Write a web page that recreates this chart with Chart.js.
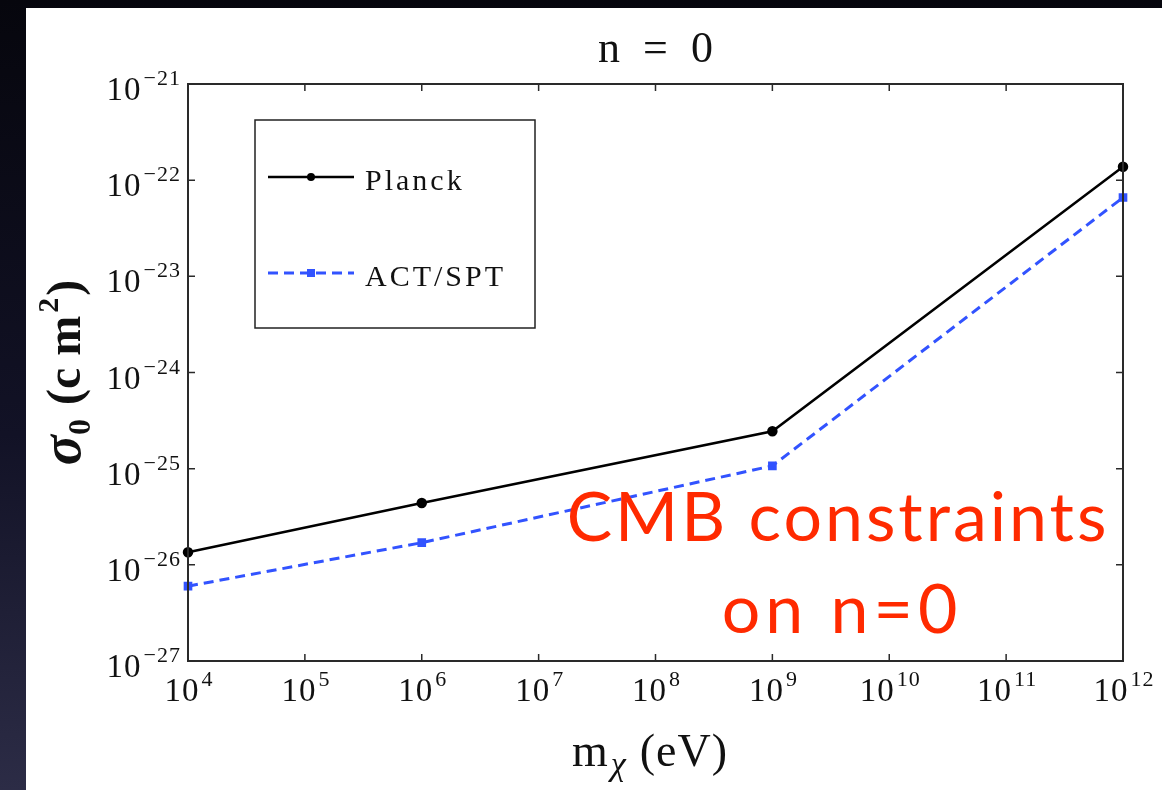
<!DOCTYPE html>
<html>
<head>
<meta charset="utf-8">
<script src="https://cdn.jsdelivr.net/npm/chart.js@4.4.1/dist/chart.umd.min.js"></script>
<style>
  html, body { margin: 0; padding: 0; }
  body {
    width: 1162px; height: 790px; overflow: hidden; position: relative;
    background: linear-gradient(180deg, #06060d 0%, #121226 55%, #2c2c46 100%);
  }
  #panel { position: absolute; left: 26px; top: 8px; right: 0; bottom: 0; background: #fff; }
  #wrap { position: absolute; left: 0; top: 0; width: 1162px; height: 790px; }
</style>
</head>
<body>
<div id="panel"></div>
<div id="wrap"><canvas id="chart"></canvas></div>
<script>
// tick decades (exponents of ten)
const xTickExps = [4, 5, 6, 7, 8, 9, 10, 11, 12];
const yTickExps = [-27, -26, -25, -24, -23, -22, -21];

// dark matter mass m_chi (eV)
const massEV = [1e4, 1e6, 1e9, 1e12];
// sigma_0 upper limits (cm^2)
const planckSigma = [1.35e-26, 4.4e-26, 2.45e-25, 1.38e-22];
const actSptSigma = [6.0e-27, 1.7e-26, 1.07e-25, 6.6e-23];
const seriesNames = ['Planck', 'ACT/SPT'];

const serif = '"Liberation Serif", "Times New Roman", serif';
const MINUS = '\u2212';

function supText(e) {
    return e < 0 ? MINUS + Math.abs(e) : String(e);
}

// draws "10" with the exponent raised, anchored right or centred
function drawPower(ctx, exp, x, y, align) {
    ctx.letterSpacing = '1px';
    ctx.font = '33px ' + serif;
    const wb = ctx.measureText('10').width;
    ctx.font = '22px ' + serif;
    const sup = supText(exp);
    const ws = ctx.measureText(sup).width;
    const gap = 2;
    const total = wb + gap + ws;
    const x0 = align === 'right' ? x - total : x - total / 2;
    ctx.textAlign = 'left';
    ctx.textBaseline = 'alphabetic';
    ctx.font = '33px ' + serif;
    ctx.fillText('10', x0, y);
    ctx.font = '22px ' + serif;
    ctx.fillText(sup, x0 + wb + gap, y - 15);
    ctx.letterSpacing = '0px';
}

const decor = {
    id: 'decor',
    afterDraw(chart) {
        const ctx = chart.ctx;
        const a = chart.chartArea;
        const xs = chart.scales.x, ys = chart.scales.y;
        ctx.save();

        // frame
        ctx.strokeStyle = '#2a2a2a';
        ctx.lineWidth = 2;
        ctx.strokeRect(a.left, a.top, a.right - a.left, a.bottom - a.top);

        // inner tick marks on all four sides
        ctx.lineWidth = 1.5;
        ctx.beginPath();
        xs.ticks.forEach(t => {
            const px = xs.getPixelForValue(t.value);
            ctx.moveTo(px, a.bottom); ctx.lineTo(px, a.bottom - 7);
            ctx.moveTo(px, a.top); ctx.lineTo(px, a.top + 7);
        });
        ys.ticks.forEach(t => {
            const py = ys.getPixelForValue(t.value);
            ctx.moveTo(a.left, py); ctx.lineTo(a.left + 7, py);
            ctx.moveTo(a.right, py); ctx.lineTo(a.right - 7, py);
        });
        ctx.stroke();

        // tick labels
        ctx.fillStyle = '#111';
        xs.ticks.forEach(t => {
            const px = xs.getPixelForValue(t.value);
            drawPower(ctx, Math.round(Math.log10(t.value)), px + 1, a.bottom + 40, 'center');
        });
        ys.ticks.forEach(t => {
            const py = ys.getPixelForValue(t.value);
            drawPower(ctx, Math.round(Math.log10(t.value)), a.left - 7, py + 16, 'right');
        });

        // title
        ctx.textAlign = 'center';
        ctx.font = '44px ' + serif;
        ctx.letterSpacing = '6px';
        ctx.fillText('n = 0', (a.left + a.right) / 2 + 3, 62);
        ctx.letterSpacing = '0px';

        // x axis title: m_chi (eV)
        ctx.textAlign = 'left';
        let x = 572;
        const by = 766;
        ctx.font = '46px ' + serif;
        ctx.fillText('m', x, by);
        x += ctx.measureText('m').width + 3;
        ctx.font = 'italic 34px ' + serif;
        ctx.fillText('\u03C7', x, by + 9);
        x += ctx.measureText('\u03C7').width + 14;
        ctx.font = '46px ' + serif;
        ctx.letterSpacing = '1px';
        ctx.fillText('(eV)', x, by);
        ctx.letterSpacing = '0px';

        // y axis title: sigma_0 (cm^2), rotated
        ctx.save();
        ctx.translate(80, (a.top + a.bottom) / 2);
        ctx.rotate(-Math.PI / 2);
        const parts = [
            { t: '\u03C3', f: 'bold italic 56px ' + serif, dy: 0, sp: 0 },
            { t: '0', f: 'bold 32px ' + serif, dy: 10, sp: 14 },
            { t: '(c m', f: 'bold 48px ' + serif, dy: 0, sp: 3 },
            { t: '2', f: 'bold 30px ' + serif, dy: -22, sp: 2 },
            { t: ')', f: 'bold 48px ' + serif, dy: 0, sp: 0 }
        ];
        let tw = 0;
        parts.forEach(p => { ctx.font = p.f; p.w = ctx.measureText(p.t).width; tw += p.w + p.sp; });
        let cx = -tw / 2;
        parts.forEach(p => { ctx.font = p.f; ctx.fillText(p.t, cx, p.dy); cx += p.w + p.sp; });
        ctx.restore();

        // legend box
        const ds = chart.data.datasets;
        ctx.strokeStyle = '#222';
        ctx.lineWidth = 1.5;
        ctx.strokeRect(255, 120, 280, 208);
        const rows = [177, 273];
        ds.forEach((d, i) => {
            const ly = rows[i];
            ctx.strokeStyle = d.borderColor;
            ctx.lineWidth = d.borderWidth;
            ctx.setLineDash(d.borderDash || []);
            ctx.beginPath();
            ctx.moveTo(268, ly); ctx.lineTo(354, ly);
            ctx.stroke();
            ctx.setLineDash([]);
            ctx.fillStyle = d.backgroundColor;
            if (d.pointStyle === 'rect') {
                ctx.fillRect(307, ly - 4, 8, 8);
            } else {
                ctx.beginPath(); ctx.arc(311, ly, 4, 0, Math.PI * 2); ctx.fill();
            }
            ctx.fillStyle = '#111';
            ctx.font = '30px ' + serif;
            ctx.letterSpacing = '3px';
            ctx.fillText(d.label, 365, ly + 13);
            ctx.letterSpacing = '0px';
        });

        // red annotation
        ctx.fillStyle = '#ff2a00';
        ctx.textAlign = 'center';
        ctx.font = '68px Lato, "Open Sans", sans-serif';
        ctx.letterSpacing = '3px';
        ctx.fillText('CMB constraints', 838, 541);
        ctx.letterSpacing = '5px';
        ctx.fillText('on n=0', 842, 633);

        ctx.restore();
    }
};

const ctx = document.getElementById('chart').getContext('2d');
new Chart(ctx, {
    type: 'line',
    data: {
        datasets: [
            {
                label: seriesNames[0],
                data: massEV.map((m, i) => ({ x: m, y: planckSigma[i] })),
                borderColor: '#000',
                backgroundColor: '#000',
                borderWidth: 2.5,
                pointStyle: 'circle',
                pointRadius: 4,
                clip: false
            },
            {
                label: seriesNames[1],
                data: massEV.map((m, i) => ({ x: m, y: actSptSigma[i] })),
                borderColor: '#3253ff',
                backgroundColor: '#3253ff',
                borderWidth: 3,
                borderDash: [10, 6],
                pointStyle: 'rect',
                pointRadius: 4,
                clip: false
            }
        ]
    },
    options: {
        responsive: true,
        maintainAspectRatio: false,
        animation: false,
        layout: { padding: { left: 0, top: 84, right: 39, bottom: 0 } },
        plugins: { legend: { display: false }, tooltip: { enabled: false } },
        scales: {
            x: {
                type: 'logarithmic',
                min: 1e4, max: 1e12,
                grid: { display: false },
                border: { display: false },
                ticks: { display: false },
                afterBuildTicks: s => { s.ticks = xTickExps.map(e => ({ value: Math.pow(10, e) })); },
                afterFit: s => { s.height = 129; }
            },
            y: {
                type: 'logarithmic',
                min: 1e-27, max: 1e-21,
                grid: { display: false },
                border: { display: false },
                ticks: { display: false },
                afterBuildTicks: s => { s.ticks = yTickExps.map(e => ({ value: Math.pow(10, e) })); },
                afterFit: s => { s.width = 188; }
            }
        }
    },
    plugins: [decor]
});
</script>
</body>
</html>
